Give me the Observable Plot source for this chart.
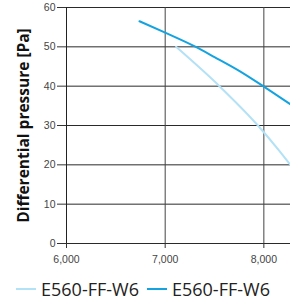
<!DOCTYPE html>
<html><head><meta charset="utf-8">
<script src="https://cdn.jsdelivr.net/npm/d3@7"></script>
<script src="https://cdn.jsdelivr.net/npm/@observablehq/plot@0.6"></script>
<style>
body{margin:0;background:#fff;overflow:hidden;}
#chart{width:290px;}
svg [aria-label="y-axis label"] text{font:bold 15.5px "Open Sans",sans-serif;fill:#111;}
.legend{display:flex;align-items:center;font:18px "Open Sans",sans-serif;color:#222;padding-left:16px;padding-top:6px;height:26px;white-space:nowrap;}
.legend .sw{display:inline-block;width:20px;height:2px;margin-right:5px;}
.legend span.it{display:inline-flex;align-items:center;margin-right:8px;}
</style></head><body>
<div id="chart"></div>
<script>
const seriesNames = ["E560-FF-W6 (light)", "E560-FF-W6 (dark)"];
const legendLabels = ["E560-FF-W6", "E560-FF-W6"];
const colors = ["#b3e1f6", "#14a3e0"];
const lightX = [7110, 7550, 7940, 8155, 8280];
const lightY = [50, 40, 30, 23.6, 19.6];
const darkX = [6740, 7000, 7300, 7500, 7750, 8000, 8280];
const darkY = [56.5, 53.6, 50.1, 47.4, 43.9, 39.9, 35.2];
const xTicks = [6000, 7000, 8000];
const yTicks = [0, 10, 20, 30, 40, 50, 60];

const data = [
  ...lightX.map((x, i) => ({s: seriesNames[0], x, y: lightY[i]})),
  ...darkX.map((x, i) => ({s: seriesNames[1], x, y: darkY[i]}))
];

const plot = Plot.plot({
  width: 290, height: 270,
  marginTop: 7, marginBottom: 27, marginLeft: 66, marginRight: 0,
  style: {fontFamily: '"Liberation Sans", Arial, sans-serif', fontSize: "10.5px", color: "#444", overflow: "visible"},
  x: {domain: [6000, 8270], ticks: xTicks},
  y: {domain: [0, 60], ticks: yTicks},
  color: {domain: seriesNames, range: colors},
  marks: [
    Plot.gridY(yTicks, {stroke: "#2a2a2a", strokeOpacity: 1, strokeWidth: 1}),
    Plot.gridX([7000, 8000], {stroke: "#444", strokeOpacity: 1, strokeWidth: 1}),
    Plot.ruleX([6000], {stroke: "#222"}),
    Plot.axisX({ticks: xTicks, tickFormat: d3.format(","), tickSize: 5, tickPadding: 7, label: null, stroke: "#333"}),
    Plot.axisY({ticks: yTicks, tickSize: 9, tickPadding: 2, label: "Differential pressure [Pa]", labelAnchor: "center", labelArrow: "none", labelOffset: 49, stroke: "#333"}),
    Plot.line(data, {x: "x", y: "y", z: "s", stroke: "s", strokeWidth: 2, curve: "monotone-x", clip: true})
  ]
});
document.getElementById("chart").append(plot);
const lg = document.createElement("div");
lg.className = "legend";
legendLabels.forEach((t, i) => {
  const it = document.createElement("span"); it.className = "it";
  const sw = document.createElement("span"); sw.className = "sw"; sw.style.background = colors[i];
  it.append(sw, document.createTextNode(t));
  lg.append(it);
});
document.getElementById("chart").append(lg);
</script></body></html>
